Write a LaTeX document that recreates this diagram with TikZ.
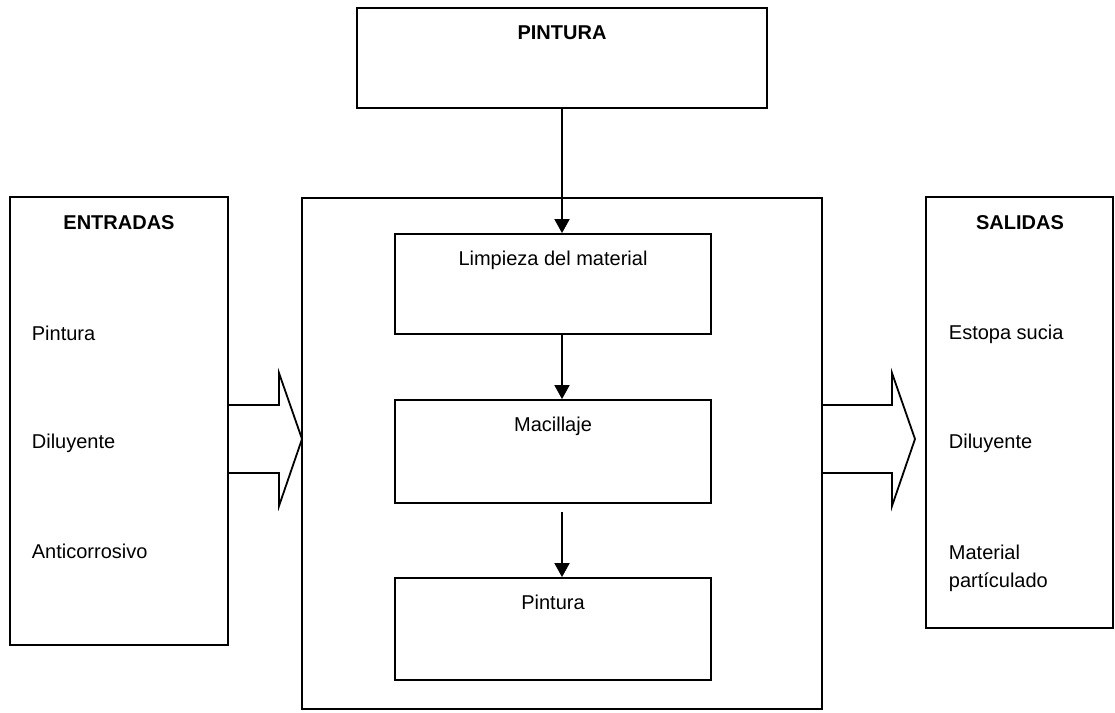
\documentclass[tikz,border=0pt]{standalone}
\usepackage{fontspec}
\setmainfont{Liberation Sans}
\usetikzlibrary{arrows.meta}
\begin{document}
\begin{tikzpicture}[x=1pt, y=-1pt, line width=1.8pt,
  box/.style={draw, rectangle, inner sep=0pt},
  txt/.style={font=\fontsize{20}{28}\selectfont, inner sep=0pt},
  head/.style={font=\fontsize{20}{24}\selectfont\bfseries, inner sep=0pt},
  flow/.style={-{Triangle[width=15pt,length=14pt]}},
  fat/.style={line join=miter}]
\useasboundingbox (0,0) rectangle (1115,712);

% frames
\node[box, minimum width=410pt, minimum height=100pt] (top) at (562,58) {};
\node[box, minimum width=218pt, minimum height=448pt] (inbox) at (119,421) {};
\node[box, minimum width=520pt, minimum height=511pt] (proc) at (562,453.5) {};
\node[box, minimum width=187pt, minimum height=431pt] (outbox) at (1019.5,412.5) {};

% process steps
\node[box, minimum width=316pt, minimum height=100pt] (limp) at (553,284) {};
\node[box, minimum width=316pt, minimum height=103pt] (mac) at (553,451.5) {};
\node[box, minimum width=316pt, minimum height=102pt] (pin) at (553,629) {};

% titles
\node[head, anchor=base] (tTop) at (562,39) {PINTURA};
\node[head, anchor=base] (tIn) at (119,229) {ENTRADAS};
\node[head, anchor=base] (tOut) at (1020,229) {SALIDAS};

% step labels
\node[txt, anchor=base] (lLimp) at (553,265) {Limpieza del material};
\node[txt, anchor=base] (lMac) at (553,431) {Macillaje};
\node[txt, anchor=base] (lPin) at (553,609) {Pintura};

% inputs
\node[txt, anchor=base west] (in1) at (31,340) {Pintura};
\node[txt, anchor=base west] (in2) at (31,448) {Diluyente};
\node[txt, anchor=base west] (in3) at (31,558) {Anticorrosivo};

% outputs
\node[txt, anchor=base west] (out1) at (948,339) {Estopa sucia};
\node[txt, anchor=base west] (out2) at (948,448) {Diluyente};
\node[txt, anchor=north west, align=left] (out3) at (948,544) {Material\\partículado};

% flow arrows
\coordinate (axis) at (562,0);
\draw[flow] (top.south) -- (axis |- limp.north);
\draw[flow] (axis |- limp.south) -- (axis |- mac.north);
\draw[flow] ([yshift=-8pt]axis |- mac.south) -- (axis |- pin.north);

% block arrows
\draw[fat] (228,405) -- (279,405) -- (279,373) -- (302,439) -- (279,506) -- (279,473) -- (228,473);
\draw[fat] (822,405) -- (892,405) -- (892,373) -- (915,439) -- (892,506) -- (892,473) -- (822,473);
\end{tikzpicture}
\end{document}
